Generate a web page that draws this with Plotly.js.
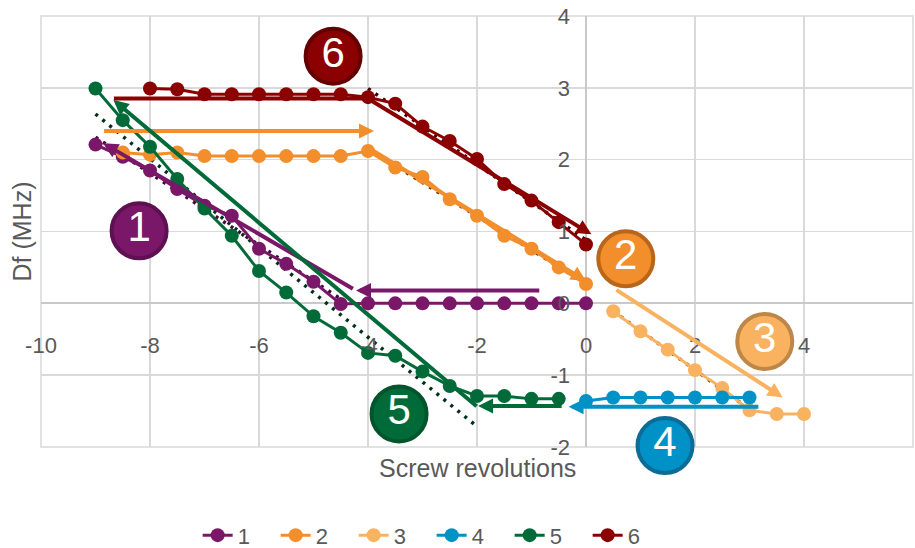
<!DOCTYPE html>
<html>
<head>
<meta charset="utf-8">
<script src="https://cdn.plot.ly/plotly-3.0.1.min.js"></script>
<style>
  html, body { margin: 0; padding: 0; background: #ffffff; }
  #chart { width: 915px; height: 548px; }
</style>
</head>
<body>
<div id="chart"></div>
<script>
// Frequency shift (MHz) against screw revolutions, six tuning runs
const seriesNames = ['1', '2', '3', '4', '5', '6'];

const x1 = [-9, -8.5, -8, -7.5, -7, -6.5, -6, -5.5, -5, -4.5, -4, -3.5, -3, -2.5, -2, -1.5, -1, -0.5, 0];
const y1 = [2.21, 2.04, 1.85, 1.59, 1.36, 1.22, 0.76, 0.55, 0.30, -0.01, 0, 0, 0, 0, 0, 0, 0, 0, 0];

const x2 = [-8.5, -8, -7.5, -7, -6.5, -6, -5.5, -5, -4.5, -4, -3.5, -3, -2.5, -2, -1.5, -1, -0.5, 0];
const y2 = [2.10, 2.07, 2.10, 2.05, 2.05, 2.05, 2.05, 2.05, 2.05, 2.12, 1.89, 1.76, 1.45, 1.22, 0.94, 0.76, 0.50, 0.27];

const x3 = [0.5, 1, 1.5, 2, 2.5, 3, 3.5, 4];
const y3 = [-0.11, -0.39, -0.645, -0.93, -1.18, -1.49, -1.54, -1.54];

const x4 = [0, 0.5, 1, 1.5, 2, 2.5, 3];
const y4 = [-1.36, -1.31, -1.31, -1.31, -1.31, -1.31, -1.31];

const x5 = [-9, -8.5, -8, -7.5, -7, -6.5, -6, -5.5, -5, -4.5, -4, -3.5, -3, -2.5, -2, -1.5, -1, -0.5];
const y5 = [2.99, 2.55, 2.18, 1.73, 1.32, 0.94, 0.45, 0.15, -0.18, -0.41, -0.69, -0.73, -0.95, -1.15, -1.29, -1.29, -1.33, -1.33];

const x6 = [-8, -7.5, -7, -6.5, -6, -5.5, -5, -4.5, -4, -3.5, -3, -2.5, -2, -1.5, -1, -0.5, 0];
const y6 = [2.99, 2.98, 2.91, 2.91, 2.91, 2.91, 2.91, 2.91, 2.87, 2.78, 2.46, 2.26, 2.01, 1.66, 1.43, 1.13, 0.82];

// Linear trendlines: which run, and the span of screw revolutions fitted
const trendSeries = [1, 2, 3, 5, 6];
const trendFrom   = [-9, -4, 0.5, -9, -4];
const trendTo     = [-4.5, 0, 3, -2, 0];

// Direction arrows (tail -> head), in chart units
const arrowSeries = [1, 1, 2, 2, 3, 4, 5, 5, 6, 6];
const arrowX0 = [-0.83, -4.25, -8.87, -4.0, 0.53, 3.19, -0.42, -1.98, -8.69, -4.0];
const arrowY0 = [0.18, 0.19, 2.40, 2.17, 0.20, -1.44, -1.43, -1.45, 2.85, 2.85];
const arrowX1 = [-4.22, -8.86, -3.89, 0.0, 3.61, -0.32, -1.98, -8.67, -4.0, 0.1];
const arrowY1 = [0.18, 2.23, 2.40, 0.31, -1.31, -1.44, -1.43, 2.83, 2.85, 0.96];
const arrowHasHead = [true, true, true, true, true, true, true, true, false, true];

// Numbered run badges
const badgeLabels = ['1', '2', '3', '4', '5', '6'];
const badgeX = [-8.2, 0.73, 3.28, 1.45, -3.43, -4.64];
const badgeY = [1.01, 0.62, -0.53, -1.98, -1.54, 3.44];

const xTickVals = [-10, -8, -6, -4, -2, 0, 2, 4, 6];
const yTickVals = [-2, -1, 0, 1, 2, 3, 4];

// Styling
const colors      = ['#7A1769', '#F28E2B', '#F9B25F', '#0091C6', '#006B38', '#8B0000'];
const badgeBorder = ['#5E1052', '#B8661C', '#BC8748', '#0B6C95', '#00552B', '#650000'];
const trendColors = ['#3E0A36', '#6E3A08', '#8A5000', '', '#00301A', '#3A0000'];
const gridColor = '#D9D9D9';
const textColor = '#595959';
const FONT = 'Liberation Sans, Arial, sans-serif';

const xs = [x1, x2, x3, x4, x5, x6];
const ys = [y1, y2, y3, y4, y5, y6];

function fitLine(xv, yv, lo, hi) {
  const px = [], py = [];
  xv.forEach((v, i) => { if (v >= lo && v <= hi) { px.push(v); py.push(yv[i]); } });
  const n = px.length;
  const mx = px.reduce((a, b) => a + b, 0) / n;
  const my = py.reduce((a, b) => a + b, 0) / n;
  let sxy = 0, sxx = 0;
  for (let i = 0; i < n; i++) { sxy += (px[i] - mx) * (py[i] - my); sxx += (px[i] - mx) ** 2; }
  const slope = sxy / sxx;
  return { x: [lo, hi], y: [my + slope * (lo - mx), my + slope * (hi - mx)] };
}

const traces = [];

// trendlines underneath the runs
trendSeries.forEach((s, k) => {
  const f = fitLine(xs[s - 1], ys[s - 1], trendFrom[k], trendTo[k]);
  traces.push({
    x: f.x, y: f.y, type: 'scatter', mode: 'lines', showlegend: false, hoverinfo: 'skip',
    line: { color: trendColors[s - 1], width: 3.5, dash: '3px,6px' }
  });
});

// the six runs
seriesNames.forEach((name, i) => {
  traces.push({
    x: xs[i], y: ys[i], name: name, type: 'scatter', mode: 'lines+markers',
    line: { color: colors[i], width: 3 },
    marker: { color: colors[i], size: 14 }
  });
});

// badges
traces.push({
  x: badgeX, y: badgeY, text: badgeLabels, type: 'scatter', mode: 'markers+text',
  showlegend: false, hoverinfo: 'skip', cliponaxis: false,
  textposition: 'middle center',
  textfont: { family: FONT, size: 42, color: '#ffffff' },
  marker: { size: 55, color: colors, line: { color: badgeBorder, width: 4 } }
});

const annotations = arrowSeries.map((s, k) => ({
  x: arrowX1[k], y: arrowY1[k], ax: arrowX0[k], ay: arrowY0[k],
  xref: 'x', yref: 'y', axref: 'x', ayref: 'y',
  text: '', showarrow: true,
  arrowhead: arrowHasHead[k] ? 2 : 0, arrowsize: 0.75, arrowwidth: 4,
  arrowcolor: colors[s - 1], standoff: 0, startstandoff: 0
}));

annotations.push({
  text: 'Screw revolutions', xref: 'paper', yref: 'paper', x: 0.5, y: -0.048,
  xanchor: 'center', yanchor: 'middle', showarrow: false,
  font: { family: FONT, size: 25, color: textColor }
});
annotations.push({
  text: 'Df (MHz)', xref: 'paper', yref: 'paper', x: -0.0218, y: 0.5, textangle: -90,
  xanchor: 'center', yanchor: 'middle', showarrow: false,
  font: { family: FONT, size: 25, color: textColor }
});

const layout = {
  width: 915, height: 548,
  margin: { l: 41, r: 2, t: 16, b: 101, autoexpand: false },
  paper_bgcolor: '#ffffff', plot_bgcolor: '#ffffff',
  font: { family: FONT, color: textColor, size: 22 },
  showlegend: true,
  legend: {
    orientation: 'h', x: 0.448, xanchor: 'center', y: -0.205, yanchor: 'middle',
    entrywidth: 33, entrywidthmode: 'pixels',
    font: { family: FONT, size: 22, color: textColor }, traceorder: 'normal'
  },
  xaxis: {
    range: [-10, 6], tickvals: xTickVals, ticktext: xTickVals.map(String),
    anchor: 'free', position: 1 / 3, side: 'bottom',
    showgrid: true, gridcolor: gridColor, gridwidth: 1.5,
    zeroline: true, zerolinecolor: '#C9C9C9', zerolinewidth: 2,
    showline: false, ticks: '', ticklabelstandoff: 27,
    tickfont: { family: FONT, size: 22, color: textColor }, fixedrange: true
  },
  yaxis: {
    range: [-2, 4], tickvals: yTickVals, ticktext: yTickVals.map(String),
    anchor: 'free', position: 0.625, side: 'left',
    showgrid: true, gridcolor: gridColor, gridwidth: 1.5,
    zeroline: true, zerolinecolor: '#C9C9C9', zerolinewidth: 2,
    showline: false, ticks: '', ticklabelstandoff: 16,
    tickfont: { family: FONT, size: 22, color: textColor }, fixedrange: true
  },
  shapes: [{
    type: 'rect', xref: 'paper', yref: 'paper', x0: 0, x1: 1, y0: 0, y1: 1,
    line: { color: gridColor, width: 1.5 }, layer: 'below'
  }],
  annotations: annotations
};

Plotly.newPlot('chart', traces, layout, { staticPlot: true, displayModeBar: false });
</script>
</body>
</html>
